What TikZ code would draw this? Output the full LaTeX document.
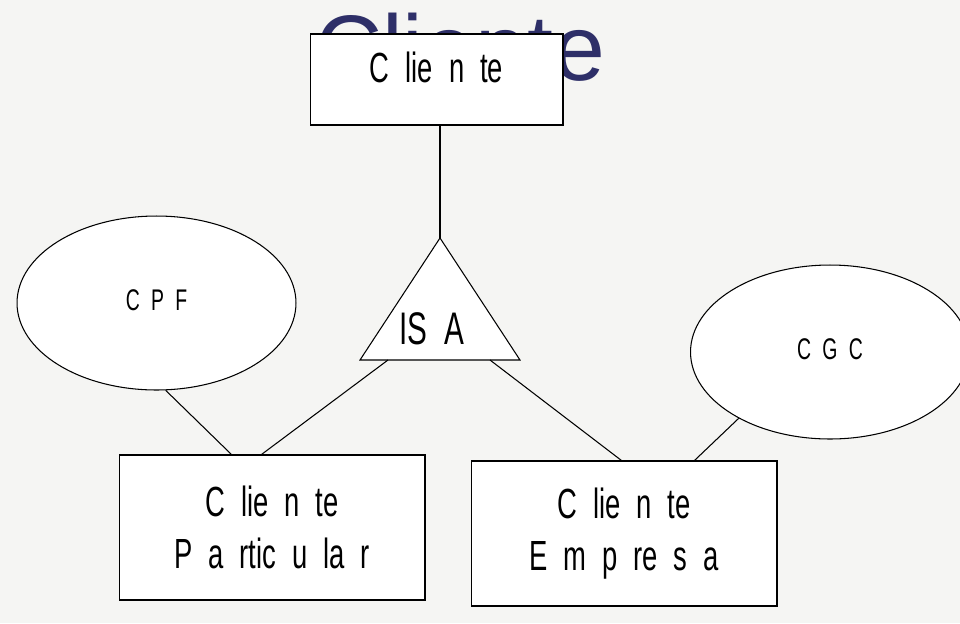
\documentclass[tikz,border=0pt]{standalone}
\usepackage{fontspec}
\setmainfont{Liberation Sans}
\newfontfamily\narrowfont[FakeStretch=0.65,WordSpace=2.1]{Liberation Sans}
\usetikzlibrary{shapes.geometric}
\definecolor{slidebg}{HTML}{F5F5F3}
\definecolor{titleblue}{HTML}{2E2F68}

\begin{document}
\begin{tikzpicture}[x=0.02cm, y=-0.02cm,
    line width=0.6pt,
    entity/.style={draw, rectangle, fill=white, inner sep=0pt, align=center,
                   font=\narrowfont\fontsize{24}{30}\selectfont},
    attrib/.style={draw, ellipse, fill=white, inner sep=0pt,
                   minimum width=5.58cm, minimum height=3.48cm,
                   font=\narrowfont\fontsize{17}{20}\selectfont},
    title/.style={anchor=base, text=titleblue, font=\fontsize{53}{60}\selectfont}]

    % === fundo do slide ===
    \fill[slidebg] (0,0) rectangle (960,623);
    \useasboundingbox (0,0) rectangle (960,623);

    % === titulo (fica atras da entidade) ===
    \node[title] (titulo) at (460,80) {Cliente};

    % === entidades ===
    \node[entity, minimum width=5.06cm, minimum height=1.82cm, text depth=0.5cm]
        (cliente) at (436.5,79.5) {C lie n te};
    \node[entity, minimum width=6.12cm, minimum height=2.9cm]
        (particular) at (272,527.5) {C lie n te\\P a rtic u la r};
    \node[entity, minimum width=6.12cm, minimum height=2.9cm]
        (empresa) at (624,533.5) {C lie n te\\E m p re s a};

    % === atributos ===
    \node[attrib, text depth=0.12cm] (cpf) at (156.5,303) {C P F};
    \node[attrib, text depth=0.12cm] (cgc) at (830,352) {C G C};

    % === ISA ===
    \coordinate (topo) at (440,238);
    \coordinate (baseE) at (360,360);
    \coordinate (baseD) at (520,360);
    \coordinate (isaE) at (388,360);
    \coordinate (isaD) at (490,360);
    \draw[fill=white] (topo) -- (baseE) -- (baseD) -- cycle;
    \node[font=\narrowfont\fontsize{26}{30}\selectfont] (isa) at (432,329) {IS A};

    % === ligacoes ===
    % Cliente -> ISA
    \draw (cliente.south -| topo) -- (topo);

    % ISA -> especializacoes
    \draw (isaE) -- ([xshift=2.86cm]particular.north west);
    \draw (isaD) -- ([xshift=3.02cm]empresa.north west);

    % atributos
    \draw (cpf.-84) -- ([xshift=2.26cm]particular.north west);
    \draw (cgc.216) -- ([xshift=4.48cm]empresa.north west);

\end{tikzpicture}
\end{document}
